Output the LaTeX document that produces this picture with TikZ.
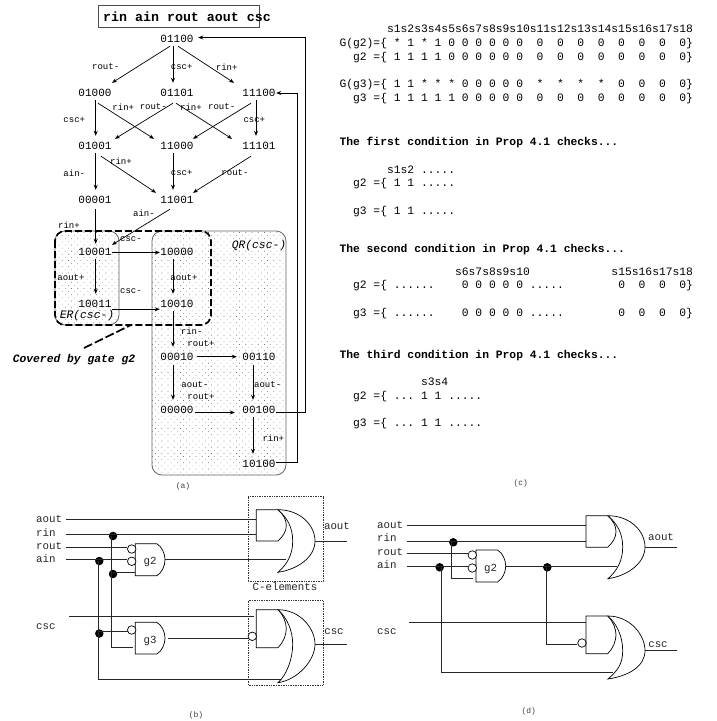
\documentclass[tikz,border=0pt]{standalone}
\usepackage{fontspec}
\setmainfont{Liberation Mono}
\usetikzlibrary{arrows.meta,patterns.meta,calc}
\newcommand{\fs}[1]{\fontsize{#1}{#1}\selectfont}
\newcommand{\andshape}[3]{% x, ytop, ybot: box with a nose, left side closed
  \pgfmathsetmacro{\xa}{#1+21.5}\pgfmathsetmacro{\xb}{#1+29.7}
  \pgfmathsetmacro{\ym}{(#2+#3)/2}
  \draw[gate] (\xa,#2) -- (#1,#2) -- (#1,#3) -- (\xa,#3) .. controls (\xb-3,#3-3) and (\xb,\ym+6) .. (\xb,\ym) .. controls (\xb,\ym-6) and (\xb-3,#2+3) .. (\xa,#2);}
\newcommand{\orshape}[4]{% x, ytop, ybot, ytip
  \pgfmathsetmacro{\xt}{#1+37}\pgfmathsetmacro{\xin}{#1+14.7}
  \draw[gate,fill=white] (#1,#2) .. controls (#1+22,#2) and (\xt,#4-16) .. (\xt,#4) .. controls (\xt,#4+16) and (#1+20,#3-3) .. (#1,#3) .. controls (#1+9,#3-8) and (\xin,#4+14) .. (\xin,#4) .. controls (\xin,#4-14) and (#1+9,#2+8) .. (#1,#2) -- cycle;}
\newcommand{\andnose}[3]{% x, ytop, ybot: C-element AND with rounded right
  \pgfmathsetmacro{\xa}{#1+21.7}\pgfmathsetmacro{\xb}{#1+30}
  \pgfmathsetmacro{\ym}{(#2+#3)/2}
  \draw[gate] (\xa,#2) -- (#1,#2) -- (#1,#3) -- (\xa,#3) .. controls (\xb-3,#3-5) and (\xb,\ym+6) .. (\xb,\ym) .. controls (\xb,\ym-6) and (\xb-3,#2+5) .. (\xa,#2);}
\tikzset{
  x=1pt,y=-1pt,
  st/.style={inner sep=0pt,minimum width=34pt,text height=13.5pt,text depth=3.5pt,anchor=base,font=\fs{11}},
  ev/.style={inner sep=0pt,font=\fs{9}},
  arr/.style={draw=black,line width=.7pt,-{Stealth[length=5pt,width=4pt]}},
  tl/.style={inner sep=0pt,anchor=base west,font=\fs{11.33}},
  tb/.style={inner sep=0pt,anchor=base west,font=\fs{11.33}\bfseries},
  capt/.style={inner sep=0pt,font=\fs{8},text=black!75},
  gate/.style={draw=black,line width=.7pt},
  wire/.style={draw=black!85,line width=.9pt},
  jdot/.style={circle,fill=black,inner sep=0pt,minimum size=8.5pt},
  bub/.style={circle,draw=black,fill=white,line width=.7pt,inner sep=0pt,minimum size=8.5pt},
  pinl/.style={inner sep=0pt,anchor=base west,font=\fs{10.8},text=black!85},
  region/.style={draw=black!60,line width=.8pt,rounded corners=10pt,pattern={Dots[distance=4.4pt,angle=45,radius=.45pt]},pattern color=black!55},
}
\begin{document}
\begin{tikzpicture}
\useasboundingbox (0,0) rectangle (717,721);
\fill[white] (0,0) rectangle (717,721);
% regions
\path[region] (55,231) rectangle (119,325);
\path[region] (152,231) rectangle (286,475);
\draw[line width=1.7pt,dash pattern=on 7pt off 3pt,rounded corners=10pt] (55,231) rectangle (211,325);
\coordinate (covA) at (84,348);
\coordinate (covB) at (131,325);
\draw[line width=1.7pt,dash pattern=on 9pt off 3pt] (covA) -- (covB);
% title
\draw[draw=black!70,line width=.8pt] (98,5) rectangle (259,27);
\node[inner sep=0pt,anchor=base west,font=\fs{13.3}\bfseries] (title) at (103,21) {rin ain rout aout csc};
% states
\node[st] (n01100) at (177,42.5) {01100};
\node[st] (n01000) at (95,96.5) {01000};
\node[st] (n01101) at (177,96.5) {01101};
\node[st] (n11100) at (259,96.5) {11100};
\node[st] (n01001) at (95,149.5) {01001};
\node[st] (n11000) at (177,149.5) {11000};
\node[st] (n11101) at (259,149.5) {11101};
\node[st] (n00001) at (95,203.5) {00001};
\node[st] (n11001) at (177,203.5) {11001};
\node[st] (n10001) at (95,255.5) {10001};
\node[st] (n10000) at (177,255.5) {10000};
\node[st] (n10011) at (95,307.5) {10011};
\node[st] (n10010) at (177,307.5) {10010};
\node[st] (n00010) at (177,360.5) {00010};
\node[st] (n00110) at (259,360.5) {00110};
\node[st] (n00000) at (177,413.5) {00000};
\node[st] (n00100) at (259,413.5) {00100};
\node[st] (n10100) at (259,467.5) {10100};
% edges
\draw[arr] ([xshift=-7]n01100.south) -- ([xshift=17]n01000.north);
\draw[arr] ([xshift=-4]n01100.south) -- ([xshift=-4]n01101.north);
\draw[arr] ([xshift=1]n01100.south) -- ([xshift=-25]n11100.north);
\draw[arr] ([xshift=.7]n01000.south) -- ([xshift=.7]n01001.north);
\draw[arr] ([xshift=3,yshift=-3]n01000.south) -- ([xshift=-23,yshift=-3]n11000.north);
\draw[arr] ([xshift=-4,yshift=-3]n01101.south) -- ([xshift=20,yshift=-3]n01001.north);
\draw[arr] ([xshift=-1,yshift=-3]n01101.south) -- ([xshift=-27,yshift=-3]n11101.north);
\draw[arr] ([xshift=-8,yshift=-3]n11100.south) -- ([xshift=16,yshift=-3]n11000.north);
\draw[arr] ([xshift=-3]n11100.south) -- ([xshift=-3]n11101.north);
\draw[arr] ([xshift=.7]n01001.south) -- ([xshift=.7]n00001.north);
\draw[arr] ([xshift=6,yshift=-3]n01001.south) -- ([xshift=-21,yshift=-3]n11001.north);
\draw[arr] ([xshift=-4]n11000.south) -- ([xshift=-4]n11001.north);
\draw[arr] ([xshift=-8,yshift=-3]n11101.south) -- ([xshift=16,yshift=-3]n11001.north);
\draw[arr] ([xshift=.7,yshift=-2]n00001.south) -- ([xshift=.7,yshift=-2]n10001.north);
\draw[arr] ([xshift=-7,yshift=-2]n11001.south) -- ([xshift=17,yshift=-3]n10001.north);
\draw[arr] ([xshift=.7]n10001.south) -- ([xshift=.7]n10011.north);
\draw[arr] ([yshift=-2]n10001.east) -- ([yshift=-2]n10000.west);
\draw[arr] ([yshift=-6.8]n10011.east) -- ([yshift=-6.8]n10010.west);
\draw[arr] ([xshift=-4]n10000.south) -- ([xshift=-4]n10010.north);
\draw[arr] ([xshift=-4]n10010.south) -- ([xshift=-4]n00010.north);
\draw[arr] ([xshift=3,yshift=-1.2]n00010.east) -- ([xshift=-5,yshift=-1.2]n00110.west);
\draw[arr] ([xshift=-4,yshift=-1]n00010.south) -- ([xshift=-4]n00000.north);
\draw[arr] ([xshift=-6,yshift=-1]n00110.south) -- ([xshift=-6]n00100.north);
\draw[arr] ([xshift=1,yshift=-4]n00000.east) -- ([xshift=-7,yshift=-4]n00100.west);
\draw[arr] ([xshift=-6]n00100.south) -- ([xshift=-6]n10100.north);
\coordinate (retA) at (305,412.5);
\coordinate (retB) at (297,462.5);
\draw[arr] ([yshift=-4]n00100.east) -- (retA) |- ([xshift=4]n01100.east);
\draw[arr] (n10100.east) -- (retB) |- ([yshift=-1.5]n11100.east);
% event labels
\node[ev] (l1) at (105.7,67) {rout-};
\node[ev] (l2) at (181.7,67) {csc+};
\node[ev] (l3) at (226.7,67) {rin+};
\node[ev] (l4) at (123.3,107) {rin+};
\node[ev] (l5) at (153.3,107) {rout-};
\node[ev] (l6) at (191,107) {rin+};
\node[ev] (l7) at (221.7,107) {rout-};
\node[ev] (l8) at (74.3,120) {csc+};
\node[ev] (l9) at (254.3,120) {csc+};
\node[ev] (l10) at (121,161) {rin+};
\node[ev] (l11) at (74.3,173) {ain-};
\node[ev] (l12) at (181.7,173) {csc+};
\node[ev] (l13) at (235,173) {rout-};
\node[ev] (l14) at (144,213.7) {ain-};
\node[ev] (l15) at (69,225.7) {rin+};
\node[ev] (l16) at (131,239) {csc-};
\node[ev] (l17) at (71,278) {aout+};
\node[ev] (l18) at (184,278) {aout+};
\node[ev] (l19) at (131,291) {csc-};
\node[ev] (l20) at (191.7,331) {rin-};
\node[ev] (l21) at (201,344) {rout+};
\node[ev] (l22) at (195,385) {aout-};
\node[ev] (l23) at (267.7,385) {aout-};
\node[ev] (l24) at (201,397) {rout+};
\node[ev] (l25) at (273.3,438) {rin+};
\node[inner sep=0pt,font=\fs{11.33}\itshape] (er) at (87,315.5) {ER(csc-)};
\node[inner sep=0pt,font=\fs{11.33}\itshape] (qr) at (259,246) {QR(csc-)};
\node[inner sep=0pt,font=\fs{11.33}\bfseries\itshape] (cov) at (74,359.5) {Covered by gate g2};
\node[capt] (capa) at (183,486) {(a)};
% text block (c)
\node[tl] (t1) at (339.3,32.5) {~~~~~~~s1s2s3s4s5s6s7s8s9s10s11s12s13s14s15s16s17s18};
\node[tl] (t2) at (339.3,46.5) {G(g2)=\{~*~1~*~1~0~0~0~0~0~0~~0~~0~~0~~0~~0~~0~~0~~0\}};
\node[tl] (t3) at (339.3,60.5) {~~g2~=\{~1~1~1~1~0~0~0~0~0~0~~0~~0~~0~~0~~0~~0~~0~~0\}};
\node[tl] (t4) at (339.3,87.5) {G(g3)=\{~1~1~*~*~*~0~0~0~0~0~~*~~*~~*~~*~~0~~0~~0~~0\}};
\node[tl] (t5) at (339.3,101.5) {~~g3~=\{~1~1~1~1~1~0~0~0~0~0~~0~~0~~0~~0~~0~~0~~0~~0\}};
\node[tb] (t6) at (339.3,145.5) {The first condition in Prop 4.1 checks...};
\node[tl] (t7) at (339.3,173.5) {~~~~~~~s1s2~.....};
\node[tl] (t8) at (339.3,186.5) {~~g2~=\{~1~1~.....};
\node[tl] (t9) at (339.3,214.5) {~~g3~=\{~1~1~.....};
\node[tb] (t10) at (339.3,252.5) {The second condition in Prop 4.1 checks...};
\node[tl] (t11) at (339.3,275.5) {~~~~~~~~~~~~~~~~~s6s7s8s9s10~~~~~~~~~~~~s15s16s17s18};
\node[tl] (t12) at (339.3,288.5) {~~g2~=\{~......~~~~0~0~0~0~0~.....~~~~~~~~0~~0~~0~~0\}};
\node[tl] (t13) at (339.3,316.5) {~~g3~=\{~......~~~~0~0~0~0~0~.....~~~~~~~~0~~0~~0~~0\}};
\node[tb] (t14) at (339.3,358.5) {The third condition in Prop 4.1 checks...};
\node[tl] (t15) at (339.3,385.5) {~~~~~~~~~~~~s3s4};
\node[tl] (t16) at (339.3,399.5) {~~g2~=\{~...~1~1~.....};
\node[tl] (t17) at (339.3,426.5) {~~g3~=\{~...~1~1~.....};
\node[capt] (capc) at (520.7,483) {(c)};
% circuit (b)
\draw[black!80,densely dotted,line width=.7pt] (248,496.7) rectangle (323.3,581.7);
\draw[black!80,densely dotted,line width=.7pt] (248,600.7) rectangle (323.3,685);
\node[pinl] (ba) at (36,522) {aout};
\node[pinl] (br) at (36,536) {rin};
\node[pinl] (bo) at (36,549) {rout};
\node[pinl] (bi) at (36,562) {ain};
\node[pinl] (bc) at (36,629) {csc};
\coordinate (bra) at (66,519); \coordinate (brb) at (256.3,519);
\coordinate (brc) at (66,534.7); \coordinate (brd) at (256.3,534.7);
\coordinate (bre) at (66,547.3); \coordinate (brf) at (66,559.7);
\coordinate (brg) at (69,616); \coordinate (brh) at (253.7,616);
\coordinate (gi) at (111.5,647.3); \coordinate (gj) at (133,647.3);
\coordinate (gk) at (98,679); \coordinate (gl) at (283,679);
\coordinate (gm) at (135.3,572.3);
\coordinate (gn) at (128,631.7);
\node[jdot] (bd1) at (113,536) {};
\node[jdot] (bd2) at (99.3,561) {};
\node[jdot] (bd3) at (113,574) {};
\node[jdot] (bd4) at (99.3,633.5) {};
\andshape{135.3}{543.7}{575.7}
\andshape{135.3}{622.3}{654}
\node[inner sep=0pt,font=\fs{10.8},text=black!85] (g2b) at (150,562) {g2};
\node[inner sep=0pt,font=\fs{10.8},text=black!85] (g3b) at (150,640.6) {g3};
\node[bub] (bb1) at (131.7,549) {};
\node[bub] (bb2) at (131.7,561.3) {};
\node[bub] (bb3) at (131.7,630) {};
\draw[wire] (bra) -- (brb);
\draw[wire] (brc) -- (brd);
\draw[wire] (bre) -- (bre -| bb1.west);
\draw[wire] (brf) -- (brf -| bb2.west);
\draw[wire] (brg) -- (brh);
\draw[wire] ([xshift=-1.5]bd1.center) -- (gi) -- (gj);
\draw[wire] ([xshift=-1.3]bd2.center) |- (gl);
\draw[wire] (gm -| bd3) -- (gm);
\draw[wire] (gn -| bd4) -- (gn);
\coordinate (bg2o) at (165,559.7); \coordinate (bor1) at (286,559.7);
\draw[wire] (bg2o) -- (bor1);
\coordinate (bg3o) at (168,638); \coordinate (bcin) at (248,638);
\draw[wire] (bg3o) -- (bcin);
\andnose{256.3}{509.7}{541}
\orshape{278}{509.7}{572.3}{541}
\andnose{256.3}{609.7}{647.7}
\orshape{278}{609.7}{682.7}{644.3}
\node[bub] (bb4) at (252.3,636.3) {};
\coordinate (bo1) at (315,541); \coordinate (bo1e) at (347,541);
\coordinate (bo2) at (315,644.3); \coordinate (bo2e) at (347,644.3);
\draw[wire] (bo1) -- (bo1e);
\draw[wire] (bo2) -- (bo2e);
\node[pinl,anchor=center] (lce) at (285,587) {C-elements};
\node[pinl,anchor=center] (lao) at (337,525.7) {aout};
\node[pinl,anchor=center] (lcs) at (334,632) {csc};
\node[capt] (capb) at (196,715) {(b)};
% circuit (d)
\node[pinl] (da) at (377,528) {aout};
\node[pinl] (dr) at (377,541.5) {rin};
\node[pinl] (do) at (377,555) {rout};
\node[pinl] (di) at (377,568) {ain};
\node[pinl] (dc) at (377,634.5) {csc};
\coordinate (dra) at (406.7,525); \coordinate (drb) at (586,525);
\coordinate (drc) at (406.7,541); \coordinate (drd) at (586,541);
\coordinate (dre) at (406.7,553.3); \coordinate (drf) at (406.7,566);
\coordinate (drg) at (409,622.3); \coordinate (drh) at (586,622.3);
\coordinate (dk) at (451.7,578.7); \coordinate (dl) at (473.3,578.7);
\coordinate (dm) at (441.3,672.3); \coordinate (dn) at (613,672.3);
\coordinate (dp) at (546,644.3);
\node[jdot] (dd1) at (453.3,542.3) {};
\node[jdot] (dd2) at (439.7,567.3) {};
\node[jdot] (dd3) at (547.3,567.3) {};
\andshape{476}{550}{582}
\node[inner sep=0pt,font=\fs{10.8},text=black!85] (g2d) at (490.7,568.7) {g2};
\node[bub] (db1) at (472.3,555) {};
\node[bub] (db2) at (472.3,568) {};
\node[bub] (db3) at (582,643) {};
\draw[wire] (dra) -- (drb);
\draw[wire] (drc) -- (drd);
\draw[wire] (dre) -- (dre -| db1.west);
\draw[wire] (drf) -- (drf -| db2.west);
\draw[wire] (drg) -- (drh);
\draw[wire] ([xshift=-1.6]dd1.center) -- (dk) -- (dl);
\draw[wire] ([xshift=1.6]dd2.center) -- (dm) -- (dn);
\coordinate (dg2o) at (505.7,566); \coordinate (dor1) at (617,566);
\draw[wire] (dg2o) -- (dor1);
\draw[wire] ([xshift=-1.3]dd3.center) -- (dp) -- (dp -| db3.west);
\andnose{586}{515.7}{547.3}
\orshape{608}{515.7}{578.7}{547}
\andnose{586}{616}{653.7}
\orshape{608}{616}{679}{650.7}
\coordinate (do1) at (645,547); \coordinate (do1e) at (677,547);
\coordinate (do2) at (645,650.7); \coordinate (do2e) at (677,650.7);
\draw[wire] (do1) -- (do1e);
\draw[wire] (do2) -- (do2e);
\node[pinl,anchor=center] (dlao) at (661,537.3) {aout};
\node[pinl,anchor=center] (dlcs) at (658,644.7) {csc};
\node[capt] (capd) at (528.7,711.7) {(d)};
\end{tikzpicture}
\end{document}
